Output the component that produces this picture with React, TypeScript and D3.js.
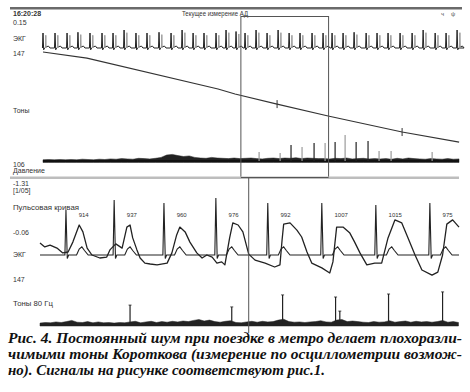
import React from "react";
import * as d3 from "d3";

// ---------- Top overview (whole measurement), time in seconds ----------
const topBeatTimes = [0.0, 1.07, 2.14, 3.11, 4.18, 5.25, 6.23, 7.21, 8.27, 9.25, 10.32, 11.39, 12.37, 13.35, 14.32, 15.39, 16.28, 17.17, 17.97, 18.95, 19.93, 20.91, 21.89, 22.86, 23.93, 24.91, 25.71, 26.69, 27.67, 28.74, 29.71, 30.69, 31.76, 32.83, 33.81, 34.88, 35.85, 36.83];
const topBeatAmps = [1.0, 1.0, 1.0, 1.05, 1.0, 1.0, 1.0, 1.2, 1.0, 1.0, 1.05, 1.0, 1.2, 1.0, 1.0, 1.0, 1.2, 1.1, 1.0, 1.2, 1.0, 1.2, 1.0, 1.0, 1.0, 1.0, 1.0, 1.0, 1.05, 1.0, 1.0, 1.0, 1.0, 1.0, 1.2, 1.0, 1.0, 1.2];
const cuffTimes = [0, 3.91, 15.57, 17.08, 20.82, 25.36, 31.94, 37.01];
const cuffPressure = [147, 144.7, 133.1, 131.2, 127.4, 122.9, 116.9, 113.1];
const cuffMarkTimes = [20.82, 31.94];
const topToneTimes = [19.22, 21.09, 22.06, 23.04, 24.11, 25.09, 25.98, 26.87, 27.85, 28.91, 29.89, 30.96, 34.61];
const topToneAmps = [0.3, 0.27, 0.53, 0.47, 0.6, 0.6, 0.63, 0.87, 0.63, 0.67, 0.33, 0.33, 0.3];
const topToneGray = [1, 1, 0, 1, 0, 1, 0, 1, 0, 0, 1, 1, 1];
// tone noise envelope, one value every 0.5 s
const topNoise = [
  0.04, 0.05, 0.04, 0.05, 0.04, 0.05, 0.04, 0.06, 0.05, 0.04,
  0.06, 0.05, 0.07, 0.06, 0.08, 0.07, 0.06, 0.09, 0.08, 0.07,
  0.09, 0.12, 0.2, 0.22, 0.18, 0.15, 0.17, 0.12, 0.1, 0.09,
  0.12, 0.1, 0.09, 0.08, 0.1, 0.08, 0.09, 0.1, 0.08, 0.07,
  0.09, 0.1, 0.08, 0.1, 0.09, 0.11, 0.08, 0.1, 0.09, 0.08,
  0.08, 0.07, 0.09, 0.08, 0.1, 0.07, 0.08, 0.09, 0.07, 0.08,
  0.07, 0.08, 0.06, 0.09, 0.07, 0.1, 0.08, 0.07, 0.06, 0.08,
  0.07, 0.06, 0.08, 0.06, 0.07,
];
const topNoiseStep = 0.5;
const zoomWindow = [17.6, 25.4];

// ---------- Bottom detail (zoomed window), time in seconds ----------
const pulseTimes = [0.0, 0.09, 0.19, 0.32, 0.43, 0.53, 0.62, 0.74, 0.81, 0.89, 0.98, 1.13, 1.26, 1.32, 1.43, 1.55, 1.64, 1.7, 1.75, 1.83, 1.89, 1.98, 2.08, 2.21, 2.4, 2.49, 2.58, 2.64, 2.74, 2.83, 2.96, 3.06, 3.15, 3.25, 3.34, 3.43, 3.49, 3.58, 3.64, 3.74, 3.83, 3.94, 4.06, 4.25, 4.43, 4.53, 4.57, 4.6, 4.72, 4.85, 4.94, 5.04, 5.13, 5.32, 5.47, 5.53, 5.6, 5.72, 5.85, 5.94, 6.04, 6.17, 6.32, 6.45, 6.57, 6.7, 6.83, 6.94, 7.08, 7.21, 7.4, 7.51, 7.6, 7.68, 7.79, 7.91];
const pulseValues = [0.4, 0.27, 0.33, 0.23, 0.07, 0.1, 0.43, 1.0, 0.77, 0.23, 0.0, -0.1, -0.07, 0.17, 0.37, 0.23, 0.93, 1.0, 0.57, 0.17, -0.1, -0.27, -0.3, -0.33, -0.27, 0.07, 0.67, 0.93, 0.77, 0.43, 0.07, -0.1, 0.0, -0.07, -0.27, -0.23, -0.33, 0.57, 1.07, 1.0, 0.77, 0.03, -0.17, -0.27, -0.4, -0.33, 0.5, 1.03, 1.07, 0.83, 0.6, 0.1, -0.27, -0.43, -0.6, -0.23, 0.93, 0.93, 0.73, 0.43, 0.07, -0.33, -0.27, -0.27, 0.57, 1.17, 1.07, 0.6, 0.0, -0.5, -0.67, -0.57, 0.0, 1.03, 1.17, 0.93];
const botBeatTimes = [0.49, 1.4, 2.34, 3.32, 4.3, 5.32, 6.34, 7.36];
const botBeatAmps = [1.5, 1.83, 1.73, 1.9, 1.73, 1.73, 1.67, 1.73];
const rrLabels = ["914", "937", "960", "976", "992", "1007", "1015", "975"];
const cursorTime = 3.94;
const botToneTimes = [1.7, 3.62, 4.58, 5.58, 5.66, 6.58, 7.6];
const botToneAmps = [0.63, 0.57, 0.97, 0.9, 0.43, 1.0, 1.07];
// 80 Hz tone noise envelope, one value every 0.1 s
const botNoise = [
  0.03, 0.05, 0.04, 0.07, 0.05, 0.08, 0.12, 0.06, 0.05, 0.08,
  0.04, 0.07, 0.04, 0.05, 0.03, 0.05, 0.04, 0.07, 0.09, 0.04,
  0.07, 0.09, 0.05, 0.08, 0.06, 0.09, 0.07, 0.1, 0.08, 0.12,
  0.15, 0.1, 0.13, 0.08, 0.06, 0.09, 0.11, 0.05, 0.04, 0.07,
  0.09, 0.06, 0.09, 0.07, 0.08, 0.13, 0.16, 0.08, 0.06, 0.07,
  0.05, 0.07, 0.08, 0.11, 0.07, 0.06, 0.13, 0.15, 0.08, 0.1,
  0.08, 0.06, 0.05, 0.08, 0.06, 0.07, 0.11, 0.06, 0.08, 0.1,
  0.06, 0.09, 0.07, 0.08, 0.06, 0.08, 0.12, 0.06, 0.08, 0.05,
];
const botNoiseStep = 0.1;

// ---------- Texts ----------
const headerTime = "16:20:28";
const headerTitle = "Текущее измерение АД";
const topLabels = ["0.15", "ЭКГ", "147", "Тоны", "106", "Давление"];
const botLabels = ["-1.31", "[1/05]", "Пульсовая кривая", "-0.06", "ЭКГ", "147", "Тоны 80 Гц"];
const caption = [
  "Рис. 4. Постоянный шум при поездке в метро делает плохоразли-",
  "чимыми тоны Короткова (измерение по осциллометрии возмож-",
  "но). Сигналы на рисунке соответствуют рис.1.",
];

const SANS = "'Liberation Sans', Arial, sans-serif";
const SERIF = "'Liberation Serif', 'Times New Roman', serif";

export default function App() {
  const xTop = d3.scaleLinear().domain([0, 37]).range([43, 459]);
  const yEcgTop = d3.scaleLinear().domain([0, 1]).range([48, 33]);
  const yCuff = d3.scaleLinear().domain([106, 147]).range([161, 52]);
  const yToneTop = d3.scaleLinear().domain([0, 1]).range([161, 131]);

  const xBot = d3.scaleLinear().domain([0, 7.91]).range([40, 459]);
  const yBot = d3.scaleLinear().domain([0, 1]).range([255, 225]);
  const yToneBot = d3.scaleLinear().domain([0, 1]).range([324, 294]);

  const line = d3.line<[number, number]>();

  // top ECG
  const ecgTop: [number, number][] = [];
  topBeatTimes.forEach((t, i) => {
    const a = topBeatAmps[i];
    const tpl: [number, number][] = [[-0.05, 0], [0, a], [0.06, -0.12], [0.14, 0], [0.35, 0.1], [0.5, 0.12], [0.62, 0]];
    tpl.forEach(([dt, v]) => ecgTop.push([xTop(t + dt), yEcgTop(v)]));
  });
  ecgTop.push([xTop(37), yEcgTop(0)]);

  const cuffLine = d3
    .line<number>()
    .x((_, i) => xTop(cuffTimes[i]))
    .y((d) => yCuff(d))(cuffPressure);

  const topNoiseArea = d3
    .area<number>()
    .x((_, i) => xTop(i * topNoiseStep))
    .y0(yToneTop(0) + 1.5)
    .y1((d) => yToneTop(d))(topNoise);

  // bottom ECG
  const ecgBot: [number, number][] = [[xBot(0), yBot(0)]];
  botBeatTimes.forEach((t, i) => {
    const a = botBeatAmps[i];
    const tpl: [number, number][] = [[-0.02, 0], [0, a], [0.025, -0.12], [0.05, 0], [0.2, 0], [0.25, 0.2], [0.3, 0.27], [0.35, 0.15], [0.42, 0]];
    tpl.forEach(([dt, v]) => ecgBot.push([xBot(t + dt), yBot(v)]));
  });
  ecgBot.push([xBot(7.91), yBot(0)]);

  const pulseLine = d3
    .line<number>()
    .x((_, i) => xBot(pulseTimes[i]))
    .y((d) => yBot(d))(pulseValues);

  const botNoiseArea = d3
    .area<number>()
    .x((_, i) => xBot(i * botNoiseStep))
    .y0(yToneBot(0) + 2)
    .y1((d) => yToneBot(d))(botNoise);

  const lblStyle = { fontFamily: SANS, fontSize: 7, fill: "#333" } as const;
  const topLabelY = [25, 41, 56, 113, 167, 173];
  const botLabelY = [186, 193, 210, 235, 257, 282, 306];

  return (
    <svg width={470} height={392} style={{ position: "absolute", left: 0, top: 0, background: "#fff" }}>
      <rect x={0} y={0} width={470} height={392} fill="#fff" />
      {/* header */}
      <rect x={10} y={7} width={452} height={2.5} fill="#6a6a6a" />
      <text x={13} y={16} fontFamily={SANS} fontSize={7} fontWeight="bold" fill="#333">{headerTime}</text>
      <text x={182} y={16} fontFamily={SANS} fontSize={7} fill="#333" textLength={66} lengthAdjust="spacingAndGlyphs">{headerTitle}</text>
      <text x={441} y={16} fontFamily={SANS} fontSize={6} fill="#555">ч</text>
      <text x={451} y={16} fontFamily={SANS} fontSize={6} fill="#555">ψ</text>

      {topLabels.map((s, i) => (
        <text key={"tl" + i} x={13} y={topLabelY[i]} {...lblStyle}>{s}</text>
      ))}

      {/* top ECG */}
      <path d={line(ecgTop) || ""} fill="none" stroke="#222" strokeWidth={1} />
      {topBeatTimes.map((t, i) => (
        <path
          key={"g" + i}
          d={`M${xTop(t + 0.22)},${yEcgTop(0)}L${xTop(t + 0.25)},${yEcgTop(topBeatAmps[i] * 0.85)}L${xTop(t + 0.28)},${yEcgTop(0)}`}
          fill="none"
          stroke="#9a9a9a"
          strokeWidth={1}
        />
      ))}

      {/* cuff pressure */}
      <path d={cuffLine || ""} fill="none" stroke="#333" strokeWidth={1.1} />
      {cuffMarkTimes.map((t, i) => {
        const p = d3.scaleLinear().domain(cuffTimes).range(cuffPressure)(t);
        return <line key={"cm" + i} x1={xTop(t)} x2={xTop(t)} y1={yCuff(p) - 4} y2={yCuff(p) + 4} stroke="#333" strokeWidth={1} />;
      })}

      {/* top tones */}
      <path d={topNoiseArea || ""} fill="#222" stroke="#222" strokeWidth={0.5} />
      <line x1={xTop(0)} x2={xTop(37)} y1={yToneTop(0)} y2={yToneTop(0)} stroke="#111" strokeWidth={2} />
      {topToneTimes.map((t, i) => (
        <line
          key={"tt" + i}
          x1={xTop(t)}
          x2={xTop(t)}
          y1={yToneTop(0)}
          y2={yToneTop(topToneAmps[i])}
          stroke={topToneGray[i] ? "#9a9a9a" : "#222"}
          strokeWidth={1.2}
        />
      ))}

      {/* zoom window box */}
      <rect
        x={xTop(zoomWindow[0])}
        y={16.5}
        width={xTop(zoomWindow[1]) - xTop(zoomWindow[0])}
        height={161}
        fill="none"
        stroke="#555"
        strokeWidth={1}
      />
      {/* separator band */}
      <rect x={10} y={176.5} width={449} height={2.5} fill="#bdbdbd" />
      <line x1={xTop(zoomWindow[0])} x2={xTop(zoomWindow[1])} y1={177.5} y2={177.5} stroke="#555" strokeWidth={1} />

      {botLabels.map((s, i) => (
        <text
          key={"bl" + i}
          x={13}
          y={botLabelY[i]}
          {...lblStyle}
          {...(i === 2 ? { textLength: 66, lengthAdjust: "spacingAndGlyphs" } : {})}
          {...(i === 6 ? { textLength: 40, lengthAdjust: "spacingAndGlyphs" } : {})}
        >
          {s}
        </text>
      ))}

      {/* bottom signals */}
      <path d={line(ecgBot) || ""} fill="none" stroke="#222" strokeWidth={1.1} />
      <path d={pulseLine || ""} fill="none" stroke="#222" strokeWidth={1.3} strokeLinejoin="round" />
      {botBeatTimes.map((t, i) => (
        <text key={"rr" + i} x={xBot(t + 0.24)} y={216.5} fontFamily={SANS} fontSize={6} fill="#333">
          {rrLabels[i]}
        </text>
      ))}

      {/* bottom tones */}
      <path d={botNoiseArea || ""} fill="#222" stroke="#222" strokeWidth={0.5} />
      {botToneTimes.map((t, i) => (
        <g key={"bt" + i}>
          <line x1={xBot(t)} x2={xBot(t)} y1={yToneBot(0)} y2={yToneBot(botToneAmps[i])} stroke="#222" strokeWidth={1.2} />
          <line x1={xBot(t) - 1.5} x2={xBot(t) + 1.5} y1={yToneBot(botToneAmps[i])} y2={yToneBot(botToneAmps[i])} stroke="#222" strokeWidth={0.8} />
        </g>
      ))}

      {/* cursor */}
      <line x1={xBot(cursorTime)} x2={xBot(cursorTime)} y1={178} y2={333} stroke="#555" strokeWidth={1} />

      {/* caption */}
      {caption.map((s, i) => (
        <text
          key={"c" + i}
          x={8}
          y={343 + i * 16}
          fontFamily={SERIF}
          fontSize={14.5}
          fontWeight="bold"
          fontStyle="italic"
          fill="#111"
          textLength={i < 2 ? 454 : 317}
          lengthAdjust="spacingAndGlyphs"
        >
          {s}
        </text>
      ))}
    </svg>
  );
}
